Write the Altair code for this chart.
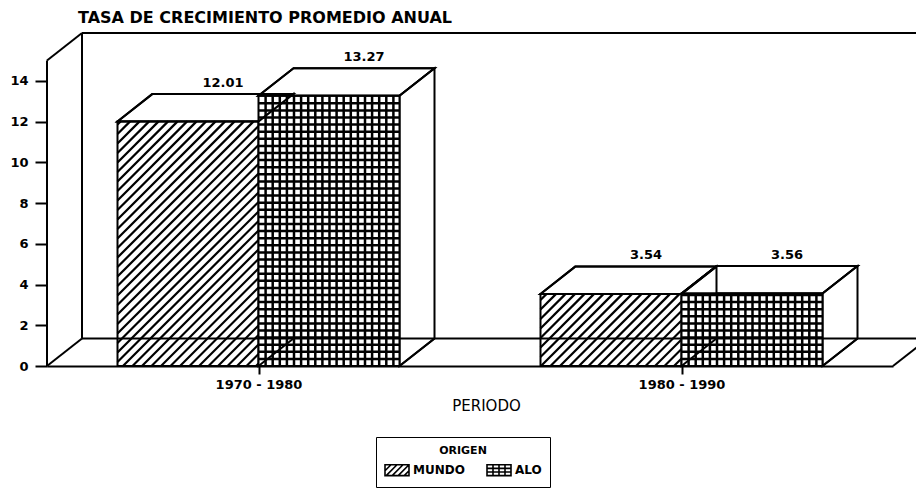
import altair as alt
import numpy as np
import pandas as pd

# ---------------- data ----------------
periods = ["1970 - 1980", "1980 - 1990"]
origins = ["MUNDO", "ALO"]
mundo_values = [12.01, 3.54]
alo_values = [13.27, 3.56]
y_tick_values = [0, 2, 4, 6, 8, 10, 12, 14]

chart_title = "TASA DE CRECIMIENTO PROMEDIO ANUAL"
x_title = "PERIODO"
legend_title = "ORIGEN"

# ---------------- layout constants ----------------
W, H = 846, 333
X_MAX = 2.0
Y_TOP = 15.0
DEPTH_Y = 1.35
Y_MAX = Y_TOP + DEPTH_Y
PXX = W / X_MAX
PXY = H / Y_MAX
DEPTH_X = 35 / PXX
BAR_W = 1 / 3
X_WALL_END = X_MAX + DEPTH_X + 0.1
HATCH_STEP = 9.5
GRID_STEP = 7.1
LINE = 2

series = {"MUNDO": mundo_values, "ALO": alo_values}

rows = []
for g, period in enumerate(periods):
    center = g + 0.5
    for s, name in enumerate(origins):
        x1 = center - BAR_W + s * BAR_W
        v = series[name][g]
        rows.append(dict(bar=f"{g}-{s}", period=period, origen=name, value=v,
                         x1=x1, x2=x1 + BAR_W, xc=center, y0=0.0,
                         lx=x1 + BAR_W / 2 + DEPTH_X, ly=v + DEPTH_Y,
                         label=f"{v:.2f}"))
bars = pd.DataFrame(rows)

top_rows, side_rows, diag_rows = [], [], []
for _, b in bars.iterrows():
    top_rows.append(dict(bar=b.bar, y=b.value, xa=b.x1, xb=b.x2))
    top_rows.append(dict(bar=b.bar, y=b.value + DEPTH_Y, xa=b.x1 + DEPTH_X, xb=b.x2 + DEPTH_X))
    side_rows.append(dict(bar=b.bar, x=b.x2, ya=0.0, yb=b.value))
    side_rows.append(dict(bar=b.bar, x=b.x2 + DEPTH_X, ya=DEPTH_Y, yb=b.value + DEPTH_Y))
    diag_rows.append(dict(x=b.x2, y=0.0, x2=b.x2 + DEPTH_X, y2=DEPTH_Y))
tops = pd.DataFrame(top_rows)
sides = pd.DataFrame(side_rows)
bottom_diags = pd.DataFrame(diag_rows)

# hatch patterns derived from the bar geometry
diag_hatch, grid_hatch = [], []
for _, b in bars.iterrows():
    X1, X2, YT = b.x1 * PXX, b.x2 * PXX, b.value * PXY
    if b.origen == "MUNDO":
        c = np.floor((X1 - YT) / HATCH_STEP) * HATCH_STEP
        while c < X2:
            xa, xb = max(X1, c), min(X2, c + YT)
            if xb - xa > 0.5:
                diag_hatch.append(dict(x=xa / PXX, y=(xa - c) / PXY, x2=xb / PXX, y2=(xb - c) / PXY))
            c += HATCH_STEP
    else:
        gx = X1 + GRID_STEP
        while gx < X2 - 1.5:
            grid_hatch.append(dict(x=gx / PXX, y=0.0, x2=gx / PXX, y2=b.value))
            gx += GRID_STEP
        gy = GRID_STEP
        while gy < YT - 1.5:
            grid_hatch.append(dict(x=b.x1, y=gy / PXY, x2=b.x2, y2=gy / PXY))
            gy += GRID_STEP
diag_df = pd.DataFrame(diag_hatch)
grid_df = pd.DataFrame(grid_hatch)

frame_back = pd.DataFrame([
    dict(x=0, y=0, x2=0, y2=Y_TOP),
    dict(x=0, y=Y_TOP, x2=DEPTH_X, y2=Y_MAX),
    dict(x=DEPTH_X, y=DEPTH_Y, x2=DEPTH_X, y2=Y_MAX),
    dict(x=DEPTH_X, y=Y_MAX, x2=X_WALL_END, y2=Y_MAX),
    dict(x=0, y=0, x2=DEPTH_X, y2=DEPTH_Y),
    dict(x=X_MAX, y=0, x2=X_MAX + DEPTH_X, y2=DEPTH_Y),
])
floor_back = pd.DataFrame([dict(x=DEPTH_X, y=DEPTH_Y, x2=X_WALL_END, y2=DEPTH_Y)])

xs = alt.Scale(domain=[0, X_MAX], nice=False, zero=False)
ys = alt.Scale(domain=[0, Y_MAX], nice=False, zero=False)

label_expr = "[" + ",".join(f"'{p}'" for p in periods) + "][floor(datum.value)]"

x_axis = alt.Axis(values=[g + 0.5 for g in range(len(periods))], labelExpr=label_expr,
                  title=x_title, grid=False, tickSize=8, tickWidth=2, tickColor="black",
                  domainColor="black", domainWidth=2, labelFontSize=13, labelFontWeight="bold",
                  labelColor="black", labelPadding=4, titleFontSize=15, titleFontWeight="normal",
                  titleColor="black", titlePadding=7, titleX=439)
y_axis = alt.Axis(values=y_tick_values, title=None, grid=False, domain=False, tickSize=12,
                  tickWidth=2, tickColor="black", labelFontSize=13, labelFontWeight="bold",
                  labelColor="black", labelPadding=7)


def XQ(f, **kw):
    return alt.X(f, type="quantitative", scale=xs, axis=x_axis, **kw)


def YQ(f, **kw):
    return alt.Y(f, type="quantitative", scale=ys, axis=y_axis, **kw)


def rules(df, width=LINE):
    return alt.Chart(df).mark_rule(color="black", strokeWidth=width).encode(
        x=XQ("x"), y=YQ("y"), x2="x2:Q", y2="y2:Q")


top_faces = alt.Chart(tops).mark_area(orient="horizontal", fill="white", stroke="black",
                                      strokeWidth=LINE).encode(
    y=YQ("y"), x=XQ("xa", stack=None), x2="xb:Q", detail="bar:N")
side_faces = alt.Chart(sides).mark_area(orient="vertical", fill="white", stroke="black",
                                        strokeWidth=LINE).encode(
    x=XQ("x"), y=YQ("ya", stack=None), y2="yb:Q", detail="bar:N")
fronts = alt.Chart(bars).mark_rect(fill="white", stroke="black", strokeWidth=LINE).encode(
    x=XQ("x1"), x2="x2:Q", y=YQ("y0"), y2="value:Q")
top_outline = alt.Chart(tops).mark_area(orient="horizontal", fillOpacity=0, stroke="black",
                                        strokeWidth=LINE).encode(
    y=YQ("y"), x=XQ("xa", stack=None), x2="xb:Q", detail="bar:N")
labels = alt.Chart(bars).mark_text(baseline="bottom", dy=-4, fontSize=13, fontWeight="bold",
                                   color="black").encode(x=XQ("lx"), y=YQ("ly"), text="label:N")

# legend swatches: 24x11 px drawn from a 12 px symbol box
hatch_path = ("M-1,-0.9H3V0.9H-1Z M-1,0.1L0,-0.9 M-0.8,0.9L1,-0.9 M0.2,0.9L2,-0.9 "
              "M1.2,0.9L3,-0.9 M2.2,0.9L3,0.1")
grid_path = ("M-1,-0.9H3V0.9H-1Z M0,-0.9V0.9 M1,-0.9V0.9 M2,-0.9V0.9 "
             "M-1,-0.3H3 M-1,0.3H3")

legend_layer = alt.Chart(bars).mark_point(filled=False, opacity=0, color="black").encode(
    x=XQ("xc"), y=YQ("y0"),
    shape=alt.Shape("origen:N", scale=alt.Scale(domain=origins, range=[hatch_path, grid_path]),
                    legend=alt.Legend(title=legend_title, orient="none", legendX=329, legendY=404,
                                      direction="horizontal", titleAnchor="middle",
                                      titleFontSize=11, titleFontWeight="bold", titleColor="black",
                                      labelFontSize=12, labelFontWeight="bold", labelColor="black",
                                      symbolSize=144, symbolStrokeWidth=1.6,
                                      symbolStrokeColor="black", symbolOpacity=1,
                                      symbolFillColor="transparent", strokeColor="black",
                                      padding=8, columnPadding=18, labelOffset=15,
                                      titlePadding=7)))

chart = alt.layer(
    rules(frame_back),
    top_faces,
    side_faces,
    fronts,
    rules(diag_df, 2.2),
    rules(grid_df, 2.5),
    top_outline,
    rules(bottom_diags),
    rules(floor_back),
    labels,
    legend_layer,
).properties(
    width=W, height=H,
    title=alt.TitleParams(text=chart_title, anchor="start", frame="group", dx=31, offset=6,
                          fontSize=16, fontWeight="bold", color="black", font="DejaVu Sans"),
    padding={"left": 39, "top": 25, "right": 23, "bottom": 123},
    autosize=alt.AutoSizeParams(type="none"),
).configure(font="DejaVu Sans", background="white").configure_view(stroke=None)

chart.save("out.html", embed_options={"renderer": "svg", "actions": False})
